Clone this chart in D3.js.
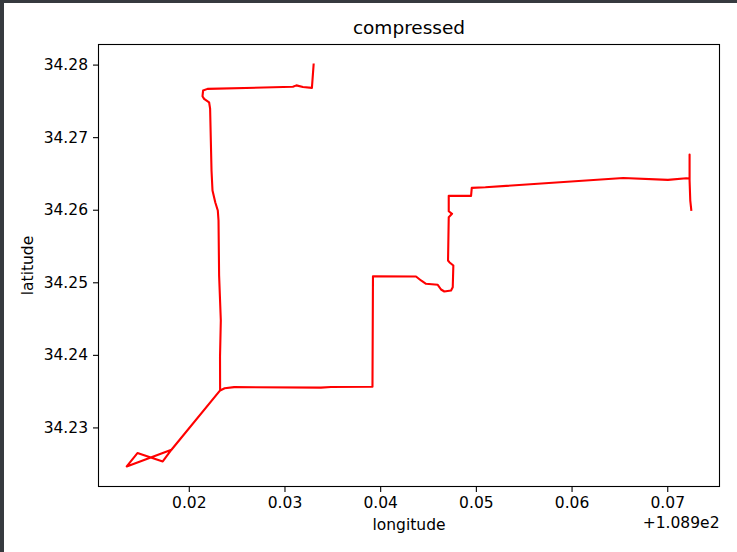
<!DOCTYPE html>
<html>
<head>
<meta charset="utf-8">
<script src="https://cdn.jsdelivr.net/npm/d3@7"></script>
<style>
  html, body { margin: 0; padding: 0; background: #ffffff; }
  svg { display: block; }
</style>
</head>
<body>
<svg id="chart" width="737" height="552"></svg>
<script>
// ---- data (longitude offset from 108.9, latitude) ----
const lonOffset = 108.9;
const lonValues = [
  0.033044, 0.032866, 0.031925, 0.031245, 0.030879, 0.021956, 0.021496, 0.021433,
  0.021600, 0.022123, 0.022228, 0.022375, 0.022479, 0.022772, 0.023033, 0.023107,
  0.023169, 0.023347, 0.023264, 0.023274,
  0.018190, 0.013515, 0.014634, 0.017280, 0.018190, 0.023274,
  0.023750, 0.024738, 0.033808, 0.034854, 0.039195, 0.039247, 0.043745, 0.044268,
  0.044791, 0.046015, 0.046360, 0.046705, 0.047406, 0.047584, 0.047646, 0.047228,
  0.047092, 0.047165, 0.047510, 0.047165, 0.047165, 0.049498, 0.049571, 0.050994,
  0.065397, 0.070073, 0.071987, 0.072333, 0.072333, 0.072333, 0.072406, 0.072510
];
const latValues = [
  34.280000, 34.276791, 34.276901, 34.277135, 34.276942, 34.276653, 34.276419, 34.275634,
  34.275275, 34.274807, 34.273939, 34.265399, 34.262645, 34.260992, 34.259890, 34.258512,
  34.250937, 34.244738, 34.239780, 34.235096,
  34.226928, 34.224628, 34.226460, 34.225317, 34.226928, 34.235096,
  34.235390, 34.235551, 34.235482, 34.235579, 34.235606, 34.250840, 34.250799, 34.250248,
  34.249793, 34.249656, 34.249008, 34.248733, 34.248871, 34.249325, 34.252314, 34.252769,
  34.253003, 34.258967, 34.259435, 34.259793, 34.261915, 34.261915, 34.263017, 34.263099,
  34.264366, 34.264118, 34.264339, 34.264298, 34.267603, 34.264022, 34.261267, 34.259986
];
const xTickValues = [0.02, 0.03, 0.04, 0.05, 0.06, 0.07];
const yTickValues = [34.23, 34.24, 34.25, 34.26, 34.27, 34.28];
const titleText = "compressed";
const xLabelText = "longitude";
const yLabelText = "latitude";
const offsetText = "+1.089e2";

// ---- layout ----
const svg = d3.select("#chart");
const W = 737, H = 552;
const plot = { left: 98.5, right: 719.5, top: 44.5, bottom: 486.5 };
const FONT = "'DejaVu Sans', sans-serif";

// screenshot frame (dark edge at left and top)
svg.append("rect").attr("x", 0).attr("y", 0).attr("width", W).attr("height", H).attr("fill", "#ffffff");
svg.append("rect").attr("x", 0).attr("y", 0).attr("width", 4).attr("height", H).attr("fill", "#363a3f");
svg.append("rect").attr("x", 0).attr("y", 0).attr("width", W).attr("height", 3).attr("fill", "#363a3f");

const points = lonValues.map((v, i) => ({ x: v, y: latValues[i] }));

function padded(ext) {
  const m = (ext[1] - ext[0]) * 0.05;
  return [ext[0] - m, ext[1] + m];
}
const x = d3.scaleLinear().domain(padded(d3.extent(lonValues))).range([plot.left, plot.right]);
const y = d3.scaleLinear().domain(padded(d3.extent(latValues))).range([plot.bottom, plot.top]);

// line
const line = d3.line().x(d => x(d.x)).y(d => y(d.y));
svg.append("path")
  .datum(points)
  .attr("d", line)
  .attr("fill", "none")
  .attr("stroke", "#ff0000")
  .attr("stroke-width", 2.1)
  .attr("stroke-linejoin", "round")
  .attr("stroke-linecap", "square");

// axes
const xAxis = d3.axisBottom(x).tickValues(xTickValues).tickSize(5.5).tickPadding(5).tickFormat(d3.format(".2f"));
const yAxis = d3.axisLeft(y).tickValues(yTickValues).tickSize(5.5).tickPadding(5).tickFormat(d3.format(".2f"));

const gx = svg.append("g").attr("transform", `translate(0,${plot.bottom})`).call(xAxis);
const gy = svg.append("g").attr("transform", `translate(${plot.left},0)`).call(yAxis);
[gx, gy].forEach(g => {
  g.select(".domain").remove();
  g.selectAll(".tick line").attr("stroke", "#000").attr("stroke-width", 1.1);
  g.selectAll(".tick text").attr("fill", "#000").style("font-family", FONT).style("font-size", "15.5px");
});

// spines
svg.append("rect")
  .attr("x", plot.left).attr("y", plot.top)
  .attr("width", plot.right - plot.left).attr("height", plot.bottom - plot.top)
  .attr("fill", "none").attr("stroke", "#000").attr("stroke-width", 1.1);

// texts
svg.append("text").attr("x", (plot.left + plot.right) / 2).attr("y", 34)
  .attr("text-anchor", "middle").style("font-family", FONT).style("font-size", "18.5px").attr("fill", "#000")
  .text(titleText);
svg.append("text").attr("x", (plot.left + plot.right) / 2).attr("y", 530)
  .attr("text-anchor", "middle").style("font-family", FONT).style("font-size", "15.5px").attr("fill", "#000")
  .text(xLabelText);
svg.append("text").attr("transform", `translate(33,${(plot.top + plot.bottom) / 2}) rotate(-90)`)
  .attr("text-anchor", "middle").style("font-family", FONT).style("font-size", "15.5px").attr("fill", "#000")
  .text(yLabelText);
svg.append("text").attr("x", plot.right).attr("y", 528)
  .attr("text-anchor", "end").style("font-family", FONT).style("font-size", "15.5px").attr("fill", "#000")
  .text(offsetText);
</script>
</body>
</html>
